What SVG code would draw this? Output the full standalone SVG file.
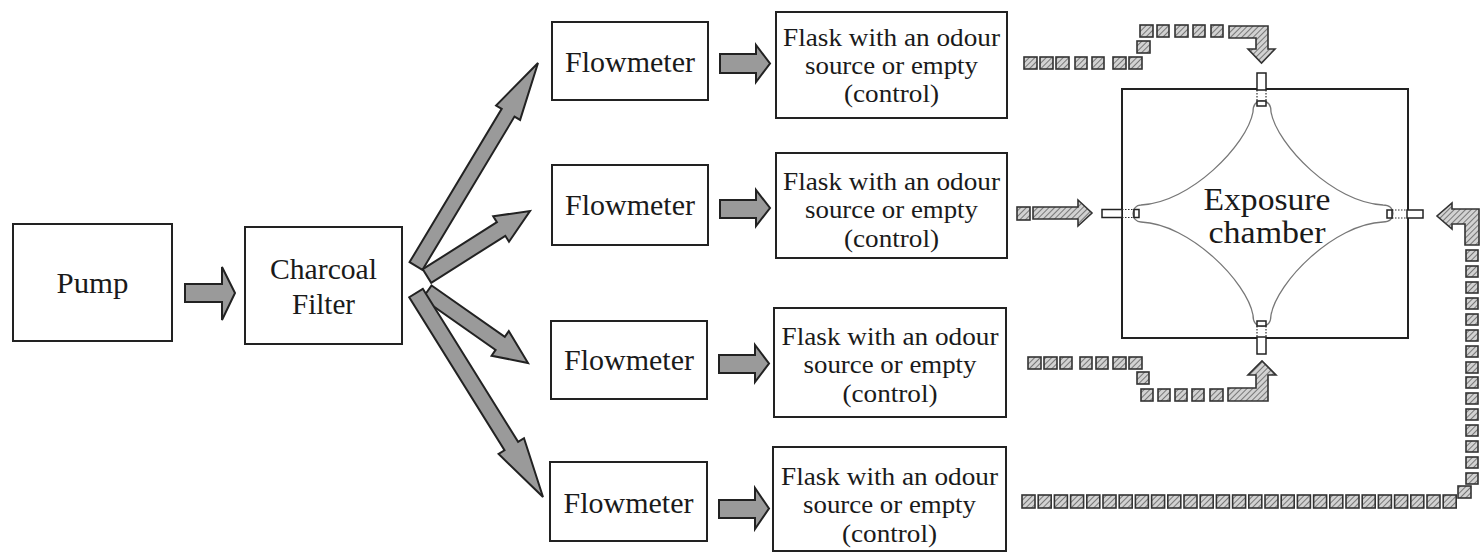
<svg xmlns="http://www.w3.org/2000/svg" width="1481" height="555" viewBox="0 0 1481 555">
<style>
.box{fill:#fff;stroke:#222;stroke-width:2}
.t{fill:#1a1a1a;text-anchor:middle}
.big{font-size:29px}
.fl{font-size:25px}
.ex{font-size:31px}
.garrow{fill:#9a9a9a;stroke:#222;stroke-width:2;stroke-linejoin:miter}
.sq{fill:url(#hatch);stroke:#333;stroke-width:1.6}
.port{fill:#fff;stroke:#222;stroke-width:1.5}
.dot{stroke:#333;stroke-width:1.2;stroke-dasharray:1.5 1.5;fill:none}
.star{fill:none;stroke:#777;stroke-width:1.3}
</style>
<defs>
<pattern id="hatch" width="4" height="4" patternUnits="userSpaceOnUse" patternTransform="rotate(45)">
<rect width="4" height="4" fill="#d2d2d2"/>
<line x1="0" y1="0" x2="0" y2="4" stroke="#777" stroke-width="2"/>
</pattern>
</defs>
<rect width="1481" height="555" fill="#fff"/>

<g font-family="'Liberation Serif', 'Times New Roman', Times, serif">
<g id="pump">
<rect class="box" x="13" y="224" width="159" height="117"/>
<text class="t big" x="92.5" y="293" textLength="72" lengthAdjust="spacingAndGlyphs">Pump</text>
</g>
<g id="charcoal-filter">
<rect class="box" x="245" y="227" width="157" height="117"/>
<text class="t big" x="323.5" y="279" textLength="107" lengthAdjust="spacingAndGlyphs">Charcoal</text>
<text class="t big" x="323.5" y="314" textLength="63" lengthAdjust="spacingAndGlyphs">Filter</text>
</g>

<g id="flowmeter1">
<rect class="box" x="552" y="22" width="156" height="78"/>
<text class="t big" x="630" y="72" textLength="130" lengthAdjust="spacingAndGlyphs">Flowmeter</text>
</g>
<g id="flowmeter2">
<rect class="box" x="552" y="165" width="156" height="80"/>
<text class="t big" x="630" y="215" textLength="130" lengthAdjust="spacingAndGlyphs">Flowmeter</text>
</g>
<g id="flowmeter3">
<rect class="box" x="551" y="321" width="156" height="78"/>
<text class="t big" x="629" y="370" textLength="130" lengthAdjust="spacingAndGlyphs">Flowmeter</text>
</g>
<g id="flowmeter4">
<rect class="box" x="550" y="462" width="157" height="79"/>
<text class="t big" x="628.5" y="513" textLength="130" lengthAdjust="spacingAndGlyphs">Flowmeter</text>
</g>

<g id="flask1">
<rect class="box" x="776" y="12" width="231" height="106"/>
<text class="t fl" x="891.5" y="46" textLength="217" lengthAdjust="spacingAndGlyphs">Flask with an odour</text>
<text class="t fl" x="891.5" y="74" textLength="173" lengthAdjust="spacingAndGlyphs">source or empty</text>
<text class="t fl" x="891.5" y="102" textLength="95" lengthAdjust="spacingAndGlyphs">(control)</text>
</g>
<g id="flask2">
<rect class="box" x="776" y="153" width="231" height="105"/>
<text class="t fl" x="891.5" y="190" textLength="217" lengthAdjust="spacingAndGlyphs">Flask with an odour</text>
<text class="t fl" x="891.5" y="218" textLength="173" lengthAdjust="spacingAndGlyphs">source or empty</text>
<text class="t fl" x="891.5" y="247" textLength="95" lengthAdjust="spacingAndGlyphs">(control)</text>
</g>
<g id="flask3">
<rect class="box" x="774" y="308" width="232" height="109"/>
<text class="t fl" x="890" y="345" textLength="217" lengthAdjust="spacingAndGlyphs">Flask with an odour</text>
<text class="t fl" x="890" y="373" textLength="173" lengthAdjust="spacingAndGlyphs">source or empty</text>
<text class="t fl" x="890" y="402" textLength="95" lengthAdjust="spacingAndGlyphs">(control)</text>
</g>
<g id="flask4">
<rect class="box" x="773" y="447" width="233" height="104"/>
<text class="t fl" x="889.5" y="485" textLength="217" lengthAdjust="spacingAndGlyphs">Flask with an odour</text>
<text class="t fl" x="889.5" y="513" textLength="173" lengthAdjust="spacingAndGlyphs">source or empty</text>
<text class="t fl" x="889.5" y="542" textLength="95" lengthAdjust="spacingAndGlyphs">(control)</text>
</g>

<g id="exposure-chamber">
<rect class="box" x="1122" y="89" width="286" height="249"/>
<path class="star" d="M1253,112 C1253,104 1256,101 1262,101 C1268,101 1271,104 1271,112 C1277,145 1334,203 1383,205 C1390,205 1393,209 1393,213.5 C1393,218 1390,222 1383,222 C1334,224 1277,282 1271,315 C1271,323 1268,326 1262,326 C1256,326 1253,323 1253,315 C1247,282 1190,224 1141,222 C1136,222 1133,218 1133,213.5 C1133,209 1136,205 1141,205 C1190,203 1247,145 1253,112 Z"/>
<rect class="port" x="1102" y="209.5" width="20" height="8"/>
<line class="dot" x1="1122" y1="209.5" x2="1134" y2="209.5"/>
<line class="dot" x1="1122" y1="217.5" x2="1134" y2="217.5"/>
<rect class="port" x="1134" y="209.5" width="5" height="8"/>
<rect class="port" x="1407" y="210" width="16" height="8"/>
<line class="dot" x1="1392" y1="210" x2="1407" y2="210"/>
<line class="dot" x1="1392" y1="218" x2="1407" y2="218"/>
<rect class="port" x="1387" y="210" width="5" height="8"/>
<rect class="port" x="1257" y="73" width="9" height="17"/>
<line class="dot" x1="1257" y1="90" x2="1257" y2="101"/>
<line class="dot" x1="1266" y1="90" x2="1266" y2="101"/>
<rect class="port" x="1257" y="101" width="9" height="5"/>
<rect class="port" x="1257" y="337" width="9" height="17"/>
<line class="dot" x1="1257" y1="326" x2="1257" y2="337"/>
<line class="dot" x1="1266" y1="326" x2="1266" y2="337"/>
<rect class="port" x="1257" y="321" width="9" height="5"/>
<text class="t ex" x="1267" y="210" textLength="127" lengthAdjust="spacingAndGlyphs">Exposure</text>
<text class="t ex" x="1267" y="243" textLength="117" lengthAdjust="spacingAndGlyphs">chamber</text>
</g>
</g>

<g id="connectors">
<path class="garrow" d="M185,284 L222,284 L222,267 L235,293 L222,320 L222,302 L185,302 Z"/>
<polygon class="garrow" points="409.6,262.1 501.7,108.8 496.1,105.5 538,63 520.1,119.9 514.5,116.6 422.4,269.9"/>
<polygon class="garrow" points="422.8,269.2 496.9,222.2 493.2,216.3 530,211 509.0,241.7 505.3,235.8 431.2,282.8"/>
<polygon class="garrow" points="431.6,285.5 504.8,336.9 508.8,331.1 528,363 491.6,355.7 495.6,349.9 422.4,298.5"/>
<polygon class="garrow" points="422.8,288.8 518.1,441.9 524.0,438.2 543,497 498.6,454.0 504.5,450.3 409.2,297.2"/>
<path class="garrow" d="M720,54 L756,54 L756,45 L770,63.5 L756,82 L756,73 L720,73 Z"/>
<path class="garrow" d="M720,200 L756,200 L756,190 L770,208 L756,226 L756,218 L720,218 Z"/>
<path class="garrow" d="M719,355 L755,355 L755,345 L769,363.5 L755,382 L755,373 L719,373 Z"/>
<path class="garrow" d="M719,500 L755,500 L755,488 L769,508.5 L755,529 L755,518 L719,518 Z"/>

<g id="path1">
<rect class="sq" x="1024" y="57" width="13" height="12"/>
<rect class="sq" x="1040" y="57" width="13" height="12"/>
<rect class="sq" x="1056" y="57" width="13" height="12"/>
<rect class="sq" x="1075" y="57" width="12" height="12"/>
<rect class="sq" x="1092" y="57" width="12" height="12"/>
<rect class="sq" x="1113" y="57" width="13" height="12"/>
<rect class="sq" x="1129" y="57" width="13" height="12"/>
<rect class="sq" x="1137" y="41" width="13" height="12"/>
<rect class="sq" x="1140" y="25" width="13" height="12"/>
<rect class="sq" x="1157" y="25" width="12" height="12"/>
<rect class="sq" x="1175" y="25" width="13" height="12"/>
<rect class="sq" x="1193" y="25" width="12" height="12"/>
<rect class="sq" x="1211" y="25" width="12" height="12"/>
<path class="sq" d="M1229,26 L1268,26 L1268,49 L1275,49 L1261.5,63 L1248,49 L1256,49 L1256,38 L1229,38 Z"/>
</g>
<g id="path2">
<rect class="sq" x="1017" y="207" width="13" height="13"/>
<path class="sq" d="M1033,207 L1078,207 L1078,200 L1092,213 L1078,226 L1078,219 L1033,219 Z"/>
</g>
<g id="path3">
<rect class="sq" x="1028" y="357" width="13" height="12"/>
<rect class="sq" x="1044" y="357" width="13" height="12"/>
<rect class="sq" x="1060" y="357" width="12" height="12"/>
<rect class="sq" x="1080" y="357" width="12" height="12"/>
<rect class="sq" x="1096" y="357" width="12" height="12"/>
<rect class="sq" x="1113" y="357" width="13" height="12"/>
<rect class="sq" x="1129" y="357" width="13" height="12"/>
<rect class="sq" x="1137" y="372" width="12" height="12"/>
<rect class="sq" x="1141" y="389" width="12" height="12"/>
<rect class="sq" x="1158" y="389" width="12" height="12"/>
<rect class="sq" x="1175" y="389" width="12" height="12"/>
<rect class="sq" x="1192" y="389" width="12" height="12"/>
<rect class="sq" x="1210" y="389" width="13" height="12"/>
<path class="sq" d="M1228,388 L1256,388 L1256,375 L1248,375 L1262,361 L1276,375 L1268,375 L1268,401 L1228,401 Z"/>
</g>
<g id="path4">
<rect class="sq" x="1022" y="495" width="13" height="13"/>
<rect class="sq" x="1038.2" y="495" width="13" height="13"/>
<rect class="sq" x="1054.4" y="495" width="13" height="13"/>
<rect class="sq" x="1070.6" y="495" width="13" height="13"/>
<rect class="sq" x="1086.8" y="495" width="13" height="13"/>
<rect class="sq" x="1103" y="495" width="13" height="13"/>
<rect class="sq" x="1119.2" y="495" width="13" height="13"/>
<rect class="sq" x="1135.4" y="495" width="13" height="13"/>
<rect class="sq" x="1151.6" y="495" width="13" height="13"/>
<rect class="sq" x="1167.8" y="495" width="13" height="13"/>
<rect class="sq" x="1184" y="495" width="13" height="13"/>
<rect class="sq" x="1200.2" y="495" width="13" height="13"/>
<rect class="sq" x="1216.4" y="495" width="13" height="13"/>
<rect class="sq" x="1232.6" y="495" width="13" height="13"/>
<rect class="sq" x="1248.8" y="495" width="13" height="13"/>
<rect class="sq" x="1265" y="495" width="13" height="13"/>
<rect class="sq" x="1281.2" y="495" width="13" height="13"/>
<rect class="sq" x="1297.4" y="495" width="13" height="13"/>
<rect class="sq" x="1313.6" y="495" width="13" height="13"/>
<rect class="sq" x="1329.8" y="495" width="13" height="13"/>
<rect class="sq" x="1346" y="495" width="13" height="13"/>
<rect class="sq" x="1362.2" y="495" width="13" height="13"/>
<rect class="sq" x="1378.4" y="495" width="13" height="13"/>
<rect class="sq" x="1394.6" y="495" width="13" height="13"/>
<rect class="sq" x="1410.8" y="495" width="13" height="13"/>
<rect class="sq" x="1427" y="495" width="13" height="13"/>
<rect class="sq" x="1443.2" y="495" width="13" height="13"/>
<rect class="sq" x="1458" y="486" width="13" height="12"/>
<rect class="sq" x="1466" y="473" width="12" height="11"/>
<rect class="sq" x="1466" y="457" width="12" height="11"/>
<rect class="sq" x="1466" y="441" width="12" height="11"/>
<rect class="sq" x="1466" y="425" width="12" height="11"/>
<rect class="sq" x="1466" y="409" width="12" height="11"/>
<rect class="sq" x="1466" y="393" width="12" height="11"/>
<rect class="sq" x="1466" y="377" width="12" height="11"/>
<rect class="sq" x="1466" y="362" width="12" height="11"/>
<rect class="sq" x="1466" y="346" width="12" height="11"/>
<rect class="sq" x="1466" y="330" width="12" height="11"/>
<rect class="sq" x="1466" y="314" width="12" height="11"/>
<rect class="sq" x="1466" y="298" width="12" height="11"/>
<rect class="sq" x="1466" y="282" width="12" height="11"/>
<rect class="sq" x="1466" y="266" width="12" height="11"/>
<rect class="sq" x="1466" y="250" width="12" height="11"/>
<path class="sq" d="M1479,209 L1479,245 L1465,245 L1465,224 L1452,224 L1452,229 L1437,216 L1452,203 L1452,209 Z"/>
</g>
</g>
</svg>
